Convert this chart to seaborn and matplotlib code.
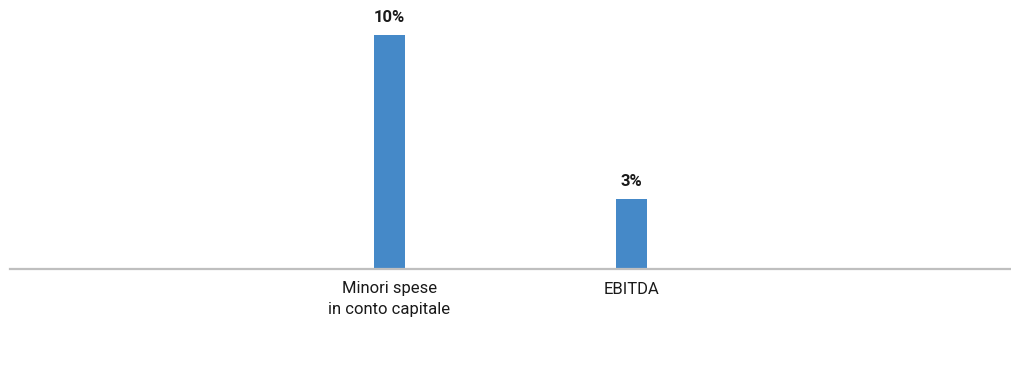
import pandas as pd
import seaborn as sns
import matplotlib.pyplot as plt

# data
categories = ["Minori spese\nin conto capitale", "EBITDA"]
values = [10, 3]
value_labels = ["10%", "3%"]

df = pd.DataFrame({"categoria": categories, "valore": values})

sns.set_theme(style="white")
plt.rcParams['font.family'] = ['Roboto', 'DejaVu Sans']

fig = plt.figure(figsize=(10.11, 3.76), dpi=100)
ax = fig.add_axes([10 / 1011, 107 / 376, 1001 / 1011, 269 / 376])

sns.barplot(data=df, x="categoria", y="valore", color="#4589C8",
            saturation=1, width=0.128, linewidth=0, ax=ax)

# value labels above bars
for i, (v, lab) in enumerate(zip(values, value_labels)):
    ax.annotate(lab, (i, v), xytext=(0, 7), textcoords="offset points",
                ha="center", va="bottom", fontsize=12, fontweight="semibold",
                color="#1a1a1a")

ax.set_xlim(-1.568, 2.568)
ax.set_ylim(0, 11.5)
ax.set_xlabel("")
ax.set_ylabel("")
ax.set_yticks([])
ax.tick_params(axis="x", length=0, pad=9, labelsize=12, labelcolor="#1a1a1a")
for t in ax.get_xticklabels():
    t.set_linespacing(1.45)

for s in ["top", "right", "left"]:
    ax.spines[s].set_visible(False)
ax.spines["bottom"].set_color("#BFBFBF")
ax.spines["bottom"].set_linewidth(1.6)

fig.savefig("out.png", dpi=100)
